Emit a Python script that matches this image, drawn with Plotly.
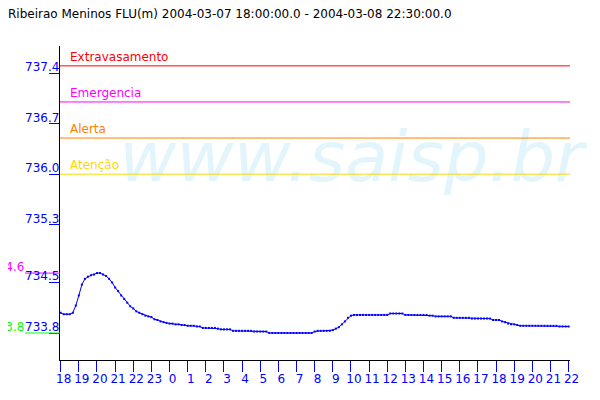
import pandas as pd
import plotly.graph_objects as go

# ---------------- data ----------------
title_text = "Ribeirao Meninos FLU(m) 2004-03-07 18:00:00.0 - 2004-03-08 22:30:00.0"
start_time = "2004-03-07 18:00"
step = "10min"

levels = [
    734.08, 734.06, 734.06, 734.06, 734.08, 734.18, 734.32, 734.47, 734.55, 734.58,
    734.60, 734.61, 734.63, 734.63, 734.61, 734.59, 734.55, 734.50, 734.43, 734.38,
    734.32, 734.27, 734.22, 734.17, 734.14, 734.10, 734.08, 734.06, 734.04, 734.03,
    734.02, 733.99, 733.98, 733.96, 733.95, 733.94, 733.93, 733.93, 733.92, 733.92,
    733.91, 733.91, 733.90, 733.90, 733.90, 733.89, 733.89, 733.87, 733.87, 733.87,
    733.87, 733.87, 733.86, 733.85, 733.85, 733.85, 733.85, 733.83, 733.83, 733.83,
    733.83, 733.83, 733.83, 733.83, 733.82, 733.82, 733.82, 733.82, 733.82, 733.80,
    733.80, 733.80, 733.80, 733.80, 733.80, 733.80, 733.80, 733.80, 733.80, 733.80,
    733.80, 733.80, 733.80, 733.80, 733.82, 733.83, 733.83, 733.83, 733.83, 733.83,
    733.84, 733.86, 733.88, 733.92, 733.96, 734.01, 734.04, 734.05, 734.05, 734.05,
    734.05, 734.05, 734.05, 734.05, 734.05, 734.05, 734.05, 734.05, 734.05, 734.07,
    734.07, 734.07, 734.07, 734.07, 734.05, 734.05, 734.05, 734.05, 734.05, 734.05,
    734.05, 734.05, 734.04, 734.04, 734.03, 734.03, 734.03, 734.03, 734.03, 734.03,
    734.01, 734.01, 734.01, 734.01, 734.01, 734.01, 734.00, 734.00, 734.00, 734.00,
    734.00, 734.00, 734.00, 733.98, 733.98, 733.98, 733.96, 733.95, 733.93, 733.92,
    733.92, 733.91, 733.90, 733.90, 733.90, 733.90, 733.90, 733.90, 733.90, 733.90,
    733.90, 733.90, 733.90, 733.90, 733.90, 733.89, 733.89, 733.89, 733.89,
]

y_tick_values = [733.8, 734.5, 735.3, 736.0, 736.7, 737.4]
y_tick_labels = ["733.8", "734.5", "735.3", "736.0", "736.7", "737.4"]

x_tick_labels = ["18", "19", "20", "21", "22", "23", "0", "1", "2", "3", "4", "5",
                 "6", "7", "8", "9", "10", "11", "12", "13", "14", "15", "16", "17",
                 "18", "19", "20", "21", "22"]

threshold_names = ["Extravasamento", "Emergencia", "Alerta", "Atenção"]
threshold_values = [737.5, 737.0, 736.5, 736.0]
threshold_colors = ["#ff0000", "#ff00ff", "#ff8000", "#ffd800"]

watermark = "www.saisp.br"

# ---------------- figure ----------------
times = pd.date_range(start_time, periods=len(levels), freq=step)
tick_times = pd.date_range(start_time, periods=len(x_tick_labels), freq="1h")

BLUE = "#0000ff"
FONT = "DejaVu Sans"

x_start = pd.Timestamp(start_time) - pd.Timedelta(minutes=2, seconds=20)
x_end = x_start + pd.Timedelta(hours=510 / 18.14)
y_range = [733.426, 737.775]

fig = go.Figure()

# watermark, drawn first so everything else sits on top of it
wm_x = x_start + 0.5716 * (x_end - x_start)
wm_y = y_range[0] + 0.627 * (y_range[1] - y_range[0])
fig.add_trace(go.Scatter(
    x=[wm_x], y=[wm_y], mode="text", text=[watermark], textposition="middle center",
    textfont=dict(family=FONT, size=70, color="#e2f4fc", style="italic"),
    cliponaxis=False, hoverinfo="skip", showlegend=False,
))

fig.add_trace(go.Scatter(
    x=times, y=levels, mode="lines+markers",
    line=dict(color=BLUE, width=1),
    marker=dict(symbol="square", size=2, color=BLUE, line=dict(width=0)),
    hoverinfo="skip", showlegend=False,
))

shapes = []
annotations = []

# threshold lines with labels
for name, val, col in zip(threshold_names, threshold_values, threshold_colors):
    shapes.append(dict(type="line", xref="paper", yref="y", x0=0, x1=1, y0=val, y1=val,
                       line=dict(color=col, width=1), layer="above"))
    annotations.append(dict(xref="paper", yref="y", x=0, y=val, xanchor="left",
                            yanchor="bottom", xshift=8, yshift=0, text=name,
                            showarrow=False, font=dict(family=FONT, size=12, color=col)))

# y tick labels (sitting on their tick)
for val, lab in zip(y_tick_values, y_tick_labels):
    annotations.append(dict(xref="paper", yref="y", x=0, y=val, xanchor="right",
                            yanchor="bottom", xshift=1, yshift=-3, text=lab,
                            showarrow=False, font=dict(family=FONT, size=12, color=BLUE)))

# max / min markers left of axis
vmax, vmin = max(levels), min(levels)
for val, col in [(vmax, "#ff00ff"), (vmin, "#00ff00")]:
    shapes.append(dict(type="line", xref="paper", yref="y", x0=-35 / 510, x1=0,
                       y0=val, y1=val, line=dict(color=col, width=1), layer="above"))
    annotations.append(dict(xref="paper", yref="y", x=0, y=val, xanchor="right",
                            yanchor="bottom", xshift=-34, yshift=-3, text=f"{val:.1f}",
                            showarrow=False, font=dict(family=FONT, size=12, color=col)))

# The page body has an 8px margin, so the figure is sized/offset to fill the window.
fig.update_layout(
    width=584, height=384,
    margin=dict(l=52, r=22, t=38, b=32, pad=0, autoexpand=False),
    paper_bgcolor="white", plot_bgcolor="white",
    font=dict(family=FONT, size=12, color=BLUE),
    title=dict(text=title_text, xref="container", yref="container", x=0, y=1 - 5.5 / 384,
               xanchor="left", yanchor="middle",
               font=dict(family=FONT, size=12, color="black")),
    shapes=shapes, annotations=annotations,
    xaxis=dict(range=[x_start, x_end], tickvals=tick_times, ticktext=x_tick_labels,
               ticks="outside", ticklen=11, tickcolor=BLUE, tickwidth=1,
               ticklabelshift=3, ticklabelstandoff=-3, automargin=False,
               showline=True, linecolor="black", linewidth=1,
               showgrid=False, zeroline=False,
               tickfont=dict(family=FONT, size=12, color=BLUE)),
    yaxis=dict(range=y_range, tickvals=y_tick_values,
               ticks="outside", ticklen=10, tickcolor=BLUE, tickwidth=1,
               showticklabels=False, automargin=False,
               showline=True, linecolor="black", linewidth=1,
               showgrid=False, zeroline=False),
)

fig.write_html("out.html")
